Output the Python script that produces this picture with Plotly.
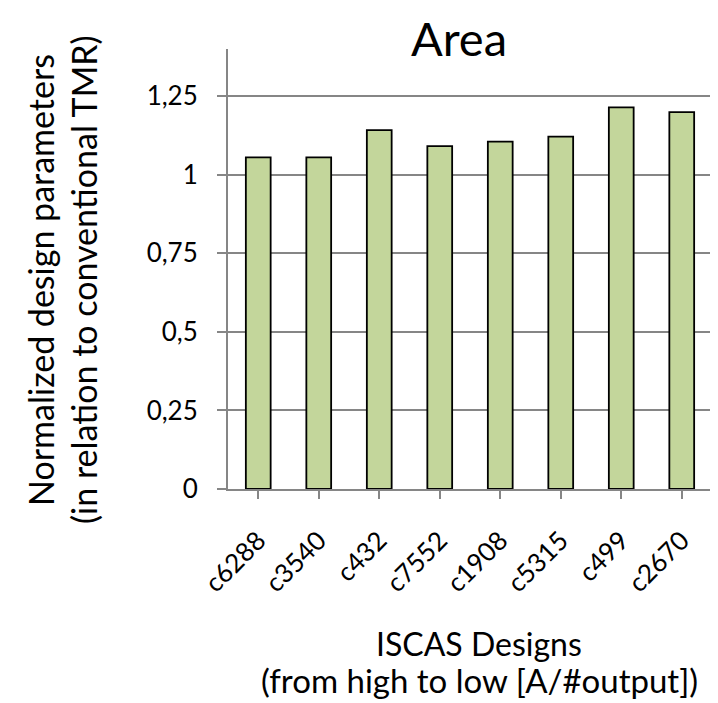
import plotly.graph_objects as go

categories = ["c6288", "c3540", "c432", "c7552", "c1908", "c5315", "c499", "c2670"]
values = [1.055, 1.055, 1.142, 1.091, 1.105, 1.121, 1.214, 1.199]
tick_vals = [0, 0.25, 0.5, 0.75, 1, 1.25]
tick_text = ["0", "0,25", "0,5", "0,75", "1", "1,25"]

FONT = "Lato"
W, H = 710, 695          # page adds an 8px body margin
OFF = 8
L, R, T, B = 220, 6, 41, 214

def px_to_paper(x, y):
    fx, fy = x - OFF, y - OFF
    return (fx - L) / (W - L - R), (H - B - fy) / (H - T - B)

fig = go.Figure()
fig.add_trace(go.Bar(
    x=categories, y=values,
    marker=dict(color="#c3d69b", line=dict(color="black", width=1.8)),
))

fig.update_layout(
    width=W, height=H,
    margin=dict(l=L, r=R, t=T, b=B),
    paper_bgcolor="white", plot_bgcolor="white",
    bargap=0.59,
    showlegend=False,
    font=dict(family=FONT, color="black", size=26),
)
tx, ty = px_to_paper(459, 8)
fig.add_annotation(text="Area", x=tx, y=ty, xref="paper", yref="paper", xanchor="center",
                   yanchor="top", showarrow=False, font=dict(size=47, family=FONT))
fig.update_xaxes(
    showline=True, linecolor="#868686", linewidth=2,
    ticks="outside", ticklen=8, tickcolor="#868686", tickwidth=2,
    tickangle=-45, tickfont=dict(size=26, family=FONT), ticklabelstandoff=16,
    showgrid=False,
)
fig.update_yaxes(
    range=[0, 1.4], tickvals=tick_vals, ticktext=tick_text,
    showline=True, linecolor="#868686", linewidth=2,
    ticks="outside", ticklen=9, tickcolor="#868686", tickwidth=2,
    showgrid=True, gridcolor="#868686", gridwidth=2,
    zeroline=False, tickfont=dict(size=26, family=FONT), ticklabelstandoff=14,
)

ax, ay = px_to_paper(479, 643)
fig.add_annotation(text="ISCAS Designs", x=ax, y=ay, xref="paper", yref="paper",
                   xanchor="center", yanchor="middle", showarrow=False,
                   font=dict(size=32, family=FONT))
ax, ay = px_to_paper(479, 702)
fig.add_annotation(text="(from high to low [A/#output])", x=ax, y=ay, xref="paper", yref="paper",
                   xanchor="center", yanchor="bottom", showarrow=False,
                   font=dict(size=33, family=FONT))
for txt, x, y in [("Normalized design parameters", 40, 280), ("(in relation to conventional TMR)", 83, 280)]:
    ax, ay = px_to_paper(x, y)
    fig.add_annotation(text=txt, textangle=-90, x=ax, y=ay, xref="paper", yref="paper",
                       xanchor="center", yanchor="middle", showarrow=False,
                       font=dict(size=34, family=FONT))

fig.write_html("out.html")
